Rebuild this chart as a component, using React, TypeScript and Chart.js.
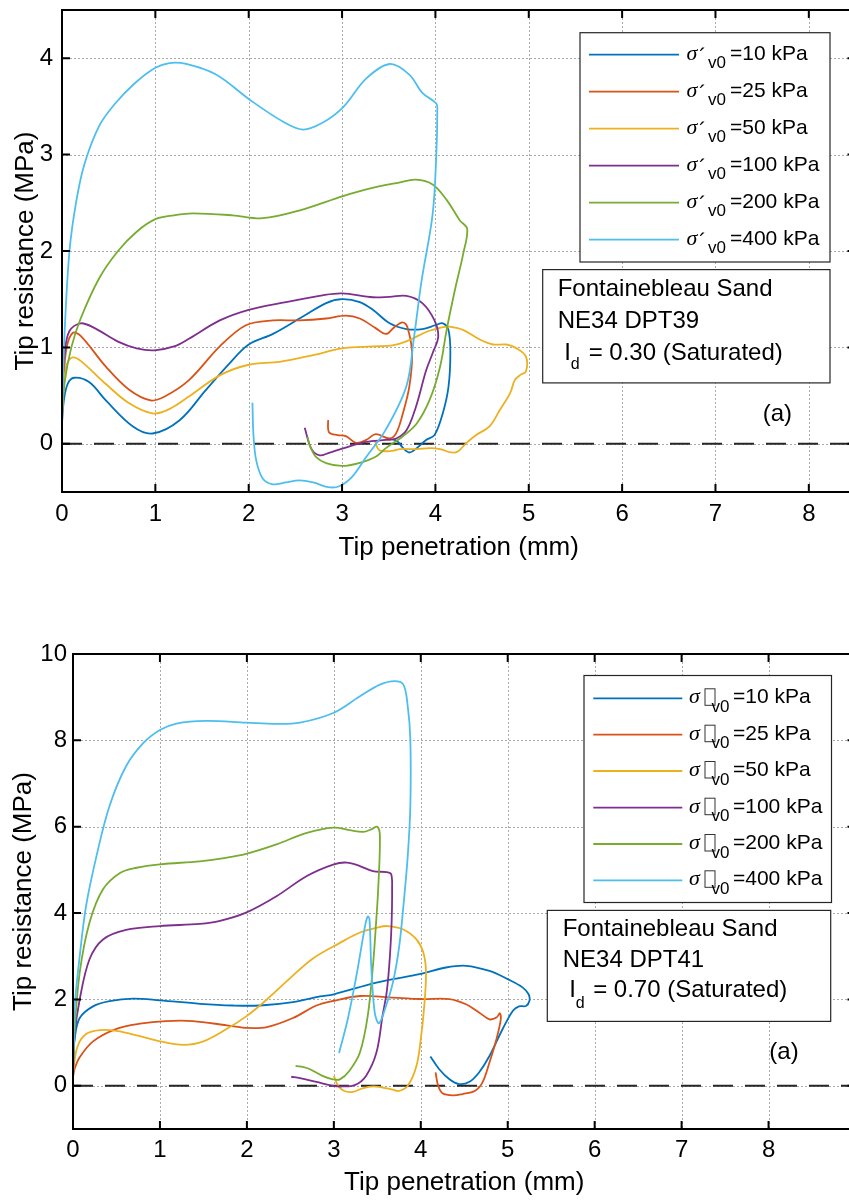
import React, { useEffect, useRef } from 'react';
import { Chart, registerables } from 'chart.js';

Chart.register(...registerables);

const FONT = "'Liberation Sans', Arial, Helvetica, sans-serif";
const SERIF = "'Liberation Serif', 'Times New Roman', serif";

// ---------- shared text ----------
const PRESSURES = ['10', '25', '50', '100', '200', '400'];
const COLORS = ['#0072BD', '#D95319', '#EDB120', '#7E2F8E', '#77AC30', '#4DBEEE'];
const X_LABEL = 'Tip penetration (mm)';
const Y_LABEL = 'Tip resistance (MPa)';
const SAND = 'Fontainebleau Sand';
const TEST_IDS = ['NE34 DPT39', 'NE34 DPT41'];
const DENSITY_INDEX = ['0.30', '0.70'];
const PANEL_TAG = '(a)';

// ---------- panel A (DPT39) axes ----------
const A_X_TICKS = [0, 1, 2, 3, 4, 5, 6, 7, 8];
const A_X_TICK_LABELS = ['0', '1', '2', '3', '4', '5', '6', '7', '8'];
const A_Y_TICKS = [0, 1, 2, 3, 4];
const A_Y_TICK_LABELS = ['0', '1', '2', '3', '4'];
const A_X_RANGE = [0, 8.5];
const A_Y_RANGE = [-0.5, 4.5];
const A_ZERO_X = [0, 8.5];
const A_ZERO_Y = [0, 0];

// ---------- panel A series ----------
const A_S10_X = [0, 0.02, 0.06, 0.13, 0.29, 0.47, 0.76, 0.97, 1.26, 1.54, 1.79, 2.0, 2.26, 2.58, 2.83, 3.0, 3.19, 3.33, 3.51, 3.69, 3.86, 4.0, 4.08, 4.14, 4.16, 4.14, 4.08, 3.99, 3.9, 3.8, 3.72, 3.65, 3.6, 3.54];
const A_S10_Y = [0.22, 0.45, 0.62, 0.685, 0.64, 0.45, 0.18, 0.107, 0.245, 0.557, 0.83, 1.03, 1.14, 1.32, 1.46, 1.5, 1.47, 1.39, 1.25, 1.19, 1.19, 1.23, 1.25, 1.18, 0.94, 0.59, 0.32, 0.09, 0.04, -0.045, -0.09, -0.04, 0.02, 0.05];

const A_S25_X = [0, 0.02, 0.05, 0.114, 0.2, 0.47, 0.72, 0.95, 1.1, 1.36, 1.69, 1.97, 2.26, 2.54, 2.83, 3.04, 3.19, 3.36, 3.47, 3.56, 3.65, 3.7, 3.75, 3.72, 3.65, 3.58, 3.51, 3.36, 3.26, 3.15, 3.04, 2.95, 2.86, 2.85];
const A_S25_Y = [0.3, 0.7, 1.0, 1.15, 1.12, 0.8, 0.56, 0.45, 0.49, 0.66, 1.01, 1.23, 1.28, 1.28, 1.3, 1.33, 1.3, 1.2, 1.14, 1.21, 1.26, 1.21, 0.94, 0.59, 0.31, 0.11, 0.055, 0.1, 0.04, 0.01, 0.08, 0.09, 0.12, 0.245];

const A_S50_X = [0, 0.02, 0.05, 0.114, 0.2, 0.47, 0.72, 0.97, 1.15, 1.36, 1.69, 2.0, 2.33, 2.69, 3.0, 3.33, 3.54, 3.72, 3.9, 4.08, 4.15, 4.3, 4.48, 4.62, 4.76, 4.87, 4.97, 4.97, 4.91, 4.85, 4.8, 4.69, 4.58, 4.44, 4.33, 4.24, 4.17, 4.05, 3.94, 3.8, 3.62, 3.54, 3.4, 3.35];
const A_S50_Y = [0.3, 0.6, 0.82, 0.896, 0.86, 0.62, 0.42, 0.315, 0.36, 0.49, 0.71, 0.82, 0.85, 0.92, 0.99, 1.01, 1.02, 1.075, 1.16, 1.21, 1.215, 1.18, 1.08, 1.03, 1.03, 0.99, 0.905, 0.75, 0.715, 0.66, 0.525, 0.35, 0.18, 0.093, 0.007, -0.08, -0.09, -0.055, -0.045, -0.055, -0.055, -0.073, -0.066, 0.03];

const A_S100_X = [0, 0.03, 0.08, 0.2, 0.35, 0.6, 0.8, 0.99, 1.2, 1.36, 1.69, 2.0, 2.4, 2.79, 3.0, 3.33, 3.51, 3.69, 3.86, 3.99, 4.03, 3.97, 3.9, 3.79, 3.69, 3.58, 3.47, 3.26, 3.0, 2.86, 2.76, 2.67, 2.6];
const A_S100_Y = [0.5, 0.95, 1.17, 1.25, 1.2, 1.06, 0.99, 0.97, 1.01, 1.09, 1.28, 1.39, 1.47, 1.54, 1.56, 1.52, 1.525, 1.535, 1.46, 1.28, 1.11, 0.94, 0.76, 0.38, 0.14, 0.055, 0.04, 0.02, -0.05, -0.093, -0.12, -0.05, 0.166];

const A_S200_X = [0, 0.03, 0.1, 0.2, 0.4, 0.6, 0.8, 1.0, 1.2, 1.4, 1.83, 2.15, 2.54, 3.01, 3.26, 3.61, 3.79, 3.97, 4.12, 4.26, 4.34, 4.3, 4.21, 4.12, 4.05, 3.94, 3.8, 3.65, 3.47, 3.36, 3.19, 3.0, 2.83, 2.72, 2.66, 2.63];
const A_S200_Y = [0.3, 0.65, 1.0, 1.3, 1.72, 2.0, 2.2, 2.33, 2.37, 2.39, 2.37, 2.34, 2.42, 2.57, 2.64, 2.71, 2.74, 2.69, 2.53, 2.32, 2.23, 1.98, 1.6, 1.18, 0.8, 0.46, 0.21, 0.076, -0.045, -0.135, -0.197, -0.23, -0.2, -0.135, -0.03, 0.07];

const A_S400_X = [0, 0.01, 0.03, 0.08, 0.15, 0.24, 0.4, 0.57, 0.78, 1.0, 1.15, 1.33, 1.65, 2.01, 2.37, 2.58, 2.79, 3.01, 3.26, 3.51, 3.72, 3.86, 4.01, 4.02, 4.01, 3.97, 3.85, 3.77, 3.69, 3.47, 3.26, 3.11, 2.97, 2.85, 2.69, 2.54, 2.4, 2.26, 2.15, 2.08, 2.05, 2.04];
const A_S400_Y = [0.2, 0.6, 1.2, 2.0, 2.5, 2.9, 3.3, 3.53, 3.74, 3.9, 3.95, 3.94, 3.83, 3.57, 3.34, 3.26, 3.33, 3.49, 3.79, 3.94, 3.83, 3.64, 3.53, 3.46, 3.01, 2.38, 1.68, 1.1, 0.6, 0.15, -0.135, -0.34, -0.44, -0.45, -0.4, -0.38, -0.4, -0.42, -0.36, -0.17, 0.107, 0.425];

// ---------- panel B (DPT41) axes ----------
const B_X_TICKS = [0, 1, 2, 3, 4, 5, 6, 7, 8];
const B_X_TICK_LABELS = ['0', '1', '2', '3', '4', '5', '6', '7', '8'];
const B_Y_TICKS = [0, 2, 4, 6, 8, 10];
const B_Y_TICK_LABELS = ['0', '2', '4', '6', '8', '10'];
const B_X_RANGE = [0, 9];
const B_Y_RANGE = [-1, 10];
const B_ZERO_X = [0, 9];
const B_ZERO_Y = [0, 0];

// ---------- panel B series ----------
const B_S10_X = [0, 0.02, 0.077, 0.23, 0.42, 0.69, 1.0, 1.46, 1.84, 2.15, 2.53, 2.84, 3.0, 3.49, 4.0, 4.29, 4.52, 4.79, 5.0, 5.17, 5.24, 5.25, 5.21, 5.13, 5.06, 4.94, 4.79, 4.67, 4.56, 4.44, 4.33, 4.21, 4.11];
const B_S10_Y = [0.5, 1.1, 1.57, 1.84, 1.96, 2.02, 1.98, 1.9, 1.86, 1.86, 1.94, 2.07, 2.12, 2.39, 2.59, 2.74, 2.78, 2.66, 2.47, 2.28, 2.12, 1.97, 1.85, 1.84, 1.74, 1.31, 0.69, 0.31, 0.093, 0.04, 0.15, 0.39, 0.68];

const B_S25_X = [0, 0.02, 0.077, 0.23, 0.5, 0.77, 1.07, 1.38, 1.77, 2.0, 2.23, 2.53, 2.8, 3.0, 3.3, 3.64, 4.0, 4.33, 4.52, 4.67, 4.79, 4.87, 4.91, 4.92, 4.87, 4.79, 4.71, 4.62, 4.48, 4.37, 4.25, 4.2, 4.17];
const B_S25_Y = [0.2, 0.4, 0.66, 1.03, 1.32, 1.44, 1.5, 1.5, 1.4, 1.34, 1.36, 1.57, 1.86, 1.97, 2.08, 2.05, 2.01, 2.01, 1.89, 1.7, 1.54, 1.58, 1.68, 1.54, 1.08, 0.54, 0.08, -0.12, -0.19, -0.22, -0.17, 0, 0.31];

const B_S50_X = [0, 0.05, 0.15, 0.31, 0.5, 0.77, 1.0, 1.27, 1.5, 1.77, 2.0, 2.23, 2.5, 2.76, 3.07, 3.3, 3.49, 3.62, 3.8, 3.95, 4.03, 4.06, 4.04, 4.0, 3.95, 3.85, 3.75, 3.68, 3.56, 3.45, 3.33, 3.22, 3.12, 3.05, 3.0];
const B_S50_Y = [0.3, 0.9, 1.2, 1.29, 1.27, 1.15, 1.03, 0.95, 1.03, 1.32, 1.62, 2.0, 2.5, 2.95, 3.31, 3.55, 3.66, 3.7, 3.62, 3.39, 3.08, 2.63, 1.85, 1.08, 0.46, 0, -0.12, -0.09, -0.04, -0.015, -0.06, -0.14, -0.12, 0, 0.23];

const B_S100_X = [0, 0.02, 0.077, 0.19, 0.345, 0.61, 1.0, 1.46, 1.69, 1.99, 2.34, 2.69, 3.0, 3.15, 3.3, 3.45, 3.61, 3.66, 3.67, 3.665, 3.645, 3.61, 3.56, 3.49, 3.37, 3.24, 3.1, 2.99, 2.8, 2.61, 2.51];
const B_S100_Y = [0.3, 1.2, 2.0, 2.93, 3.39, 3.61, 3.7, 3.75, 3.82, 4.01, 4.39, 4.86, 5.13, 5.17, 5.09, 4.97, 4.95, 4.9, 4.55, 3.8, 3.0, 2.2, 1.62, 0.77, 0.23, 0.015, -0.015, 0, 0.09, 0.18, 0.21];

const B_S200_X = [0, 0.02, 0.077, 0.19, 0.345, 0.54, 0.73, 1.0, 1.46, 1.76, 1.99, 2.34, 2.69, 3.0, 3.18, 3.34, 3.43, 3.5, 3.53, 3.51, 3.49, 3.45, 3.39, 3.3, 3.18, 3.07, 2.99, 2.87, 2.72, 2.61, 2.56];
const B_S200_Y = [0.3, 1.3, 2.62, 3.78, 4.55, 4.93, 5.05, 5.13, 5.2, 5.28, 5.37, 5.59, 5.86, 5.98, 5.92, 5.88, 5.94, 6.0, 5.78, 4.55, 3.9, 2.78, 1.62, 0.77, 0.35, 0.15, 0.15, 0.23, 0.39, 0.45, 0.46];

const B_S400_X = [0, 0.01, 0.02, 0.077, 0.15, 0.27, 0.42, 0.61, 0.81, 1.0, 1.19, 1.53, 1.99, 2.34, 2.61, 3.0, 3.3, 3.53, 3.7, 3.8, 3.85, 3.88, 3.88, 3.85, 3.8, 3.75, 3.68, 3.6, 3.52, 3.47, 3.43, 3.41, 3.39, 3.36, 3.26, 3.16, 3.06];
const B_S400_Y = [0.3, 1.0, 1.85, 3.0, 4.16, 5.32, 6.48, 7.4, 7.94, 8.24, 8.39, 8.45, 8.41, 8.38, 8.41, 8.64, 9.02, 9.29, 9.37, 9.29, 8.79, 8.02, 6.48, 5.32, 4.16, 3.2, 2.4, 1.85, 1.45, 1.7, 2.78, 3.86, 3.92, 3.71, 2.55, 1.54, 0.76];

const A_SERIES_X = [A_S10_X, A_S25_X, A_S50_X, A_S100_X, A_S200_X, A_S400_X];
const A_SERIES_Y = [A_S10_Y, A_S25_Y, A_S50_Y, A_S100_Y, A_S200_Y, A_S400_Y];
const B_SERIES_X = [B_S10_X, B_S25_X, B_S50_X, B_S100_X, B_S200_X, B_S400_X];
const B_SERIES_Y = [B_S10_Y, B_S25_Y, B_S50_Y, B_S100_Y, B_S200_Y, B_S400_Y];

// ---------- layout (pixels, not data) ----------
const PANEL_A = {
  data: {
    seriesX: A_SERIES_X, seriesY: A_SERIES_Y, zeroX: A_ZERO_X, zeroY: A_ZERO_Y,
    xRange: A_X_RANGE, yRange: A_Y_RANGE,
    xTicks: A_X_TICKS, xTickLabels: A_X_TICK_LABELS, yTicks: A_Y_TICKS, yTickLabels: A_Y_TICK_LABELS,
    testId: TEST_IDS[0], density: DENSITY_INDEX[0], mark: 'acute',
  },
  padTop: 10, padRight: 4.5, yAxisWidth: 62, xAxisHeight: 108,
  yTickPad: 9, xTickPad: 8, yTitlePad: 10, xTitlePad: 37,
  legend: { x: 580, y: 32.7, w: 250, h: 229.3, rows: [54.7, 91.7, 128.7, 165.7, 202.7, 239.7], lineX0: 589, lineX1: 679, sigmaX: 686.5, markX: 699, subX: 708, textX: 730 },
  note: { x: 542.7, y: 269.6, w: 287.3, h: 113.3, textX: 557.7, base: [296, 328, 359.5], subX: 570.7, subBase: 369, restX: 582, tagX: 762.7, tagBase: 421 },
};

const PANEL_B = {
  data: {
    seriesX: B_SERIES_X, seriesY: B_SERIES_Y, zeroX: B_ZERO_X, zeroY: B_ZERO_Y,
    xRange: B_X_RANGE, yRange: B_Y_RANGE,
    xTicks: B_X_TICKS, xTickLabels: B_X_TICK_LABELS, yTicks: B_Y_TICKS, yTickLabels: B_Y_TICK_LABELS,
    testId: TEST_IDS[1], density: DENSITY_INDEX[1], mark: 'box',
  },
  padTop: 54, padRight: 4.5, yAxisWidth: 73, xAxisHeight: 72,
  yTickPad: 6, xTickPad: 7, yTitlePad: 8, xTitlePad: 2.4,
  legend: { x: 584, y: 75.5, w: 247.5, h: 227, rows: [98.3, 134.7, 171, 207.7, 244, 280.3], lineX0: 593.3, lineX1: 682.3, sigmaX: 689, markX: 704.5, subX: 711.5, textX: 733 },
  note: { x: 547.3, y: 310.4, w: 283.4, h: 111, textX: 562.7, base: [336.4, 366.8, 397], subX: 575.7, subBase: 408, restX: 586.5, tagX: 769.3, tagBase: 459 },
};

function zip(xs: number[], ys: number[]) {
  return xs.map((x, i) => ({ x, y: ys[i] }));
}

function drawGrid(chart: any, P: any) {
  const { ctx, chartArea: a, scales } = chart;
  ctx.save();
  ctx.strokeStyle = '#ababab';
  ctx.lineWidth = 1;
  ctx.setLineDash([2, 2]);
  ctx.beginPath();
  for (const v of P.data.xTicks) {
    const p = Math.round(scales.x.getPixelForValue(v)) + 0.5;
    ctx.moveTo(p, a.top);
    ctx.lineTo(p, a.bottom);
  }
  for (const v of P.data.yTicks) {
    const p = Math.round(scales.y.getPixelForValue(v)) + 0.5;
    ctx.moveTo(a.left, p);
    ctx.lineTo(a.right, p);
  }
  ctx.stroke();
  ctx.restore();
}

function drawFrame(chart: any, P: any) {
  const { ctx, chartArea: a, scales } = chart;
  ctx.save();
  ctx.setLineDash([]);
  ctx.strokeStyle = '#000';
  ctx.lineWidth = 2;
  ctx.strokeRect(a.left, a.top, a.right - a.left, a.bottom - a.top);
  ctx.beginPath();
  for (const v of P.data.xTicks) {
    const p = scales.x.getPixelForValue(v);
    ctx.moveTo(p, a.bottom); ctx.lineTo(p, a.bottom - 8);
    ctx.moveTo(p, a.top); ctx.lineTo(p, a.top + 8);
  }
  for (const v of P.data.yTicks) {
    const p = scales.y.getPixelForValue(v);
    ctx.moveTo(a.left, p); ctx.lineTo(a.left + 8, p);
    ctx.moveTo(a.right, p); ctx.lineTo(a.right - 8, p);
  }
  ctx.stroke();
  ctx.restore();
}

function drawLegend(ctx: CanvasRenderingContext2D, P: any) {
  const L = P.legend;
  ctx.save();
  ctx.setLineDash([]);
  ctx.fillStyle = '#fff';
  ctx.fillRect(L.x, L.y, L.w, L.h);
  ctx.strokeStyle = '#262626';
  ctx.lineWidth = 1.2;
  ctx.strokeRect(L.x, L.y, L.w, L.h);
  ctx.textAlign = 'left';
  ctx.textBaseline = 'alphabetic';
  L.rows.forEach((ry: number, i: number) => {
    ctx.strokeStyle = COLORS[i];
    ctx.lineWidth = 1.8;
    ctx.beginPath();
    ctx.moveTo(L.lineX0, ry);
    ctx.lineTo(L.lineX1, ry);
    ctx.stroke();
    ctx.fillStyle = '#000';
    ctx.font = `italic 22px ${SERIF}`;
    ctx.fillText('σ', L.sigmaX, ry + 5);
    if (P.data.mark === 'acute') {
      ctx.font = `22px ${FONT}`;
      ctx.fillText('´', L.markX, ry + 9);
    } else {
      ctx.strokeStyle = '#333';
      ctx.lineWidth = 1;
      ctx.strokeRect(L.markX + 0.5, ry - 9.5, 10, 16.5);
    }
    ctx.font = `17px ${FONT}`;
    ctx.fillText('v0', L.subX, ry + 13.5);
    ctx.font = `21px ${FONT}`;
    ctx.fillText(`=${PRESSURES[i]} kPa`, L.textX, ry + 5);
  });
  ctx.restore();
}

function drawNote(ctx: CanvasRenderingContext2D, P: any) {
  const N = P.note;
  ctx.save();
  ctx.setLineDash([]);
  ctx.fillStyle = '#fff';
  ctx.fillRect(N.x, N.y, N.w, N.h);
  ctx.strokeStyle = '#262626';
  ctx.lineWidth = 1.2;
  ctx.strokeRect(N.x, N.y, N.w, N.h);
  ctx.fillStyle = '#000';
  ctx.textAlign = 'left';
  ctx.textBaseline = 'alphabetic';
  ctx.font = `24px ${FONT}`;
  ctx.fillText(SAND, N.textX, N.base[0]);
  ctx.fillText(P.data.testId, N.textX, N.base[1]);
  ctx.fillText(' I', N.textX, N.base[2]);
  ctx.font = `16px ${FONT}`;
  ctx.fillText('d', N.subX, N.subBase);
  ctx.font = `24px ${FONT}`;
  ctx.fillText(` = ${P.data.density} (Saturated)`, N.restX, N.base[2]);
  ctx.fillText(PANEL_TAG, N.tagX, N.tagBase);
  ctx.restore();
}

function buildConfig(P: any): any {
  const D = P.data;
  const datasets: any[] = [
    {
      label: 'zero',
      data: zip(D.zeroX, D.zeroY),
      showLine: true,
      borderColor: '#262626',
      borderWidth: 2,
      borderDash: [20, 12],
      pointRadius: 0,
      order: 20,
    },
    ...D.seriesX.map((xs: number[], i: number) => ({
      label: `σ′v0=${PRESSURES[i]} kPa`,
      data: zip(xs, D.seriesY[i]),
      showLine: true,
      borderColor: COLORS[i],
      backgroundColor: COLORS[i],
      borderWidth: 1.8,
      pointRadius: 0,
      tension: 0.35,
      fill: false,
      order: 10 - i,
    })),
  ];
  const plugin = {
    id: 'frameDecor',
    beforeDatasetsDraw(chart: any) { drawGrid(chart, P); },
    afterDatasetsDraw(chart: any) {
      drawLegend(chart.ctx, P);
      drawNote(chart.ctx, P);
      drawFrame(chart, P);
    },
  };
  return {
    type: 'scatter',
    data: { datasets },
    options: {
      responsive: false,
      maintainAspectRatio: false,
      animation: false,
      devicePixelRatio: 1,
      events: [],
      layout: { padding: { top: P.padTop, right: P.padRight, left: 0, bottom: 0 } },
      plugins: { legend: { display: false }, tooltip: { enabled: false } },
      scales: {
        x: {
          type: 'linear',
          min: D.xRange[0],
          max: D.xRange[1],
          afterBuildTicks: (s: any) => { s.ticks = D.xTicks.map((v: number) => ({ value: v })); },
          afterFit: (s: any) => { s.height = P.xAxisHeight; s.paddingLeft = 0; s.paddingRight = 0; },
          grid: { display: false, drawTicks: false },
          border: { display: false },
          ticks: {
            autoSkip: false, maxRotation: 0, padding: P.xTickPad, color: '#000',
            font: { family: FONT, size: 24 },
            callback: (_v: any, i: number) => D.xTickLabels[i],
          },
          title: { display: true, text: X_LABEL, color: '#000', font: { family: FONT, size: 26 }, padding: { top: 0, bottom: P.xTitlePad } },
        },
        y: {
          type: 'linear',
          min: D.yRange[0],
          max: D.yRange[1],
          afterBuildTicks: (s: any) => { s.ticks = D.yTicks.map((v: number) => ({ value: v })); },
          afterFit: (s: any) => { s.width = P.yAxisWidth; s.paddingTop = 0; s.paddingBottom = 0; },
          grid: { display: false, drawTicks: false },
          border: { display: false },
          ticks: {
            autoSkip: false, padding: P.yTickPad, color: '#000',
            font: { family: FONT, size: 24 },
            callback: (_v: any, i: number) => D.yTickLabels[i],
          },
          title: { display: true, text: Y_LABEL, color: '#000', font: { family: FONT, size: 26 }, padding: { top: P.yTitlePad, bottom: 0 } },
        },
      },
    },
    plugins: [plugin],
  };
}

export default function App() {
  const refA = useRef<HTMLCanvasElement>(null);
  const refB = useRef<HTMLCanvasElement>(null);
  useEffect(() => {
    const a = new Chart(refA.current as HTMLCanvasElement, buildConfig(PANEL_A));
    const b = new Chart(refB.current as HTMLCanvasElement, buildConfig(PANEL_B));
    return () => {
      a.destroy();
      b.destroy();
    };
  }, []);
  return (
    <div style={{ position: 'absolute', left: 0, top: 0, width: 849, height: 1201, overflow: 'hidden', background: '#fff' }}>
      <canvas ref={refA} width={860} height={600} style={{ position: 'absolute', left: 0, top: 0, width: 860, height: 600 }} />
      <canvas ref={refB} width={860} height={601} style={{ position: 'absolute', left: 0, top: 600, width: 860, height: 601 }} />
    </div>
  );
}
